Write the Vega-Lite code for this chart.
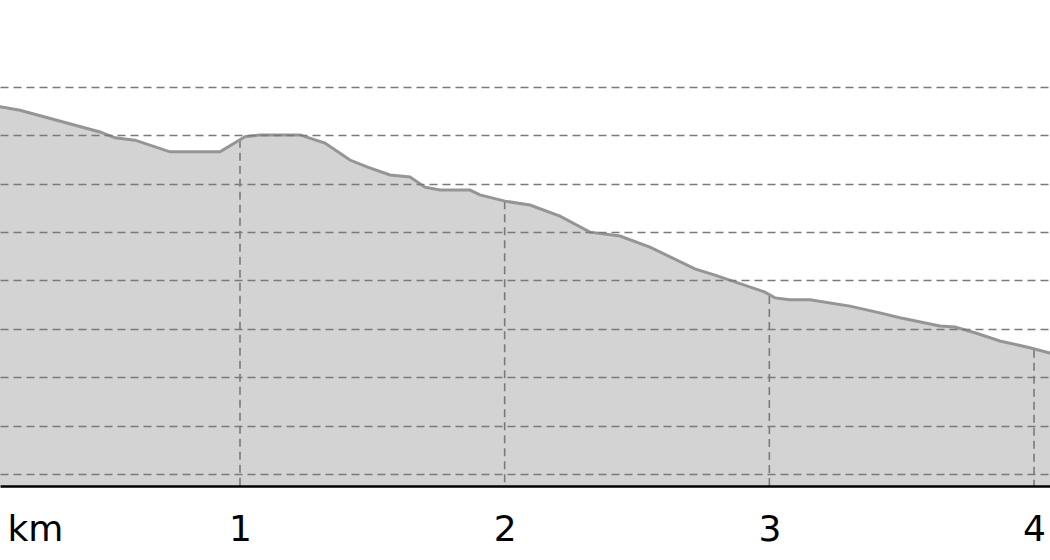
{
  "$schema": "https://vega.github.io/schema/vega-lite/v6.json",
  "width": 1050,
  "height": 486,
  "padding": 0,
  "autosize": {"type": "pad"},
  "background": "white",
  "config": {"view": {"stroke": null}, "font": "DejaVu Sans"},
  "datasets": {
    "profile": [
      {"km": 0.0, "elev": 276.5},
      {"km": 0.0933, "elev": 275.9},
      {"km": 0.1689, "elev": 275.2},
      {"km": 0.4711, "elev": 270.7},
      {"km": 0.5278, "elev": 269.5},
      {"km": 0.6033, "elev": 269.0},
      {"km": 0.7356, "elev": 266.6},
      {"km": 0.9245, "elev": 266.6},
      {"km": 1.0189, "elev": 269.7},
      {"km": 1.0756, "elev": 270.1},
      {"km": 1.2267, "elev": 270.1},
      {"km": 1.3211, "elev": 268.4},
      {"km": 1.4155, "elev": 264.9},
      {"km": 1.4798, "elev": 263.5},
      {"km": 1.5667, "elev": 261.8},
      {"km": 1.6422, "elev": 261.4},
      {"km": 1.6989, "elev": 259.3},
      {"km": 1.7555, "elev": 258.7},
      {"km": 1.8689, "elev": 258.7},
      {"km": 1.9066, "elev": 257.7},
      {"km": 2.0011, "elev": 256.4},
      {"km": 2.0955, "elev": 255.6},
      {"km": 2.2089, "elev": 253.3},
      {"km": 2.3222, "elev": 250.0},
      {"km": 2.4355, "elev": 249.2},
      {"km": 2.5489, "elev": 246.9},
      {"km": 2.7189, "elev": 242.4},
      {"km": 2.7944, "elev": 241.1},
      {"km": 2.87, "elev": 239.7},
      {"km": 2.9833, "elev": 237.6},
      {"km": 3.0211, "elev": 236.4},
      {"km": 3.0778, "elev": 236.0},
      {"km": 3.1533, "elev": 236.0},
      {"km": 3.3044, "elev": 234.7},
      {"km": 3.4178, "elev": 233.3},
      {"km": 3.4933, "elev": 232.3},
      {"km": 3.6445, "elev": 230.6},
      {"km": 3.7011, "elev": 230.4},
      {"km": 3.7767, "elev": 229.2},
      {"km": 3.8711, "elev": 227.5},
      {"km": 3.9845, "elev": 226.1},
      {"km": 4.06, "elev": 225.0},
      {"km": 4.1, "elev": 224.6}
    ],
    "marks": [
      {"km": 1, "top": 269.1, "base": 197.52},
      {"km": 2, "top": 256.4, "base": 197.52},
      {"km": 3, "top": 236.8, "base": 197.52},
      {"km": 4, "top": 225.7, "base": 197.52}
    ]
  },
  "layer": [
    {
      "data": {"name": "profile"},
      "mark": {"type": "area", "color": "#d3d3d3", "clip": true, "opacity": 1},
      "encoding": {
        "x": {
          "field": "km",
          "type": "quantitative",
          "scale": {"domain": [0.0932, 4.0604], "nice": false, "zero": false},
          "axis": {
            "values": [0.225, 1, 2, 3, 4],
            "labelExpr": "datum.value < 0.5 ? 'km' : toString(round(datum.value))",
            "title": null,
            "grid": false,
            "ticks": false,
            "domain": true,
            "domainColor": "#000000",
            "domainWidth": 2.5,
            "labelFont": "DejaVu Sans",
            "labelFontSize": 36,
            "labelColor": "#000000",
            "labelBaseline": "alphabetic",
            "labelPadding": 54,
            "labelFlush": false,
            "labelOverlap": false,
            "zindex": 2
          }
        },
        "y": {
          "field": "elev",
          "type": "quantitative",
          "scale": {"domain": [197.52, 297.98], "nice": false, "zero": false},
          "axis": {
            "values": [200, 210, 220, 230, 240, 250, 260, 270, 280],
            "title": null,
            "labels": false,
            "ticks": false,
            "domain": false,
            "grid": true,
            "gridColor": "#7a7a7a",
            "gridWidth": 1.6,
            "gridDash": [8, 5],
            "zindex": 1
          }
        }
      }
    },
    {
      "data": {"name": "marks"},
      "mark": {"type": "rule", "color": "#7a7a7a", "strokeWidth": 1.6, "strokeDash": [8, 5]},
      "encoding": {
        "x": {"field": "km", "type": "quantitative"},
        "y": {"field": "top", "type": "quantitative"},
        "y2": {"field": "base"}
      }
    },
    {
      "data": {"name": "profile"},
      "mark": {"type": "line", "color": "#959595", "strokeWidth": 3, "clip": true},
      "encoding": {
        "x": {"field": "km", "type": "quantitative"},
        "y": {"field": "elev", "type": "quantitative"}
      }
    }
  ]
}
